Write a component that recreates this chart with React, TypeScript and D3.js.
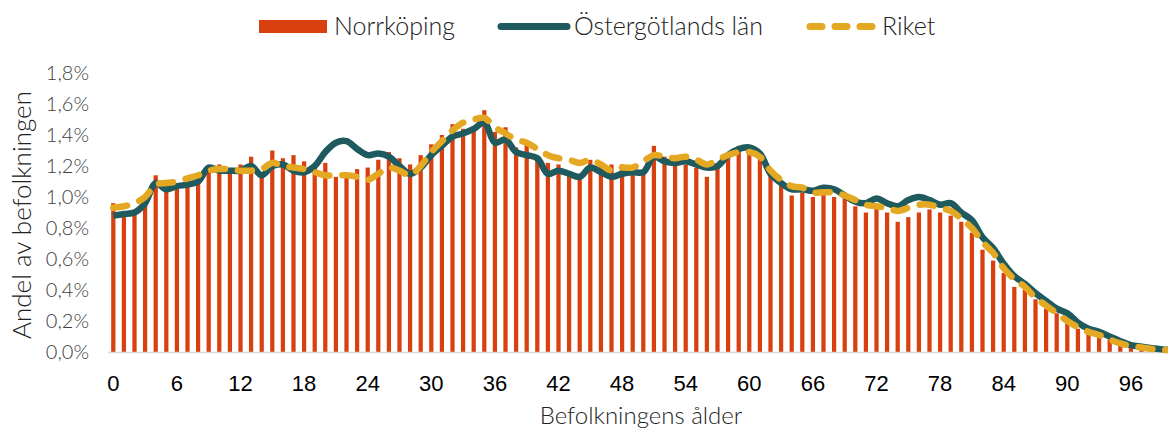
import React from 'react';
import * as d3 from 'd3';

const ages = d3.range(0, 101);

const norrkoping = [
  0.96, 0.9, 0.91, 0.97, 1.14, 1.06, 1.08, 1.09, 1.11, 1.19,
  1.21, 1.15, 1.21, 1.26, 1.16, 1.3, 1.25, 1.27, 1.23, 1.2,
  1.22, 1.13, 1.13, 1.18, 1.19, 1.24, 1.29, 1.25, 1.21, 1.27,
  1.34, 1.4, 1.47, 1.44, 1.45, 1.56, 1.42, 1.45, 1.32, 1.34,
  1.26, 1.22, 1.21, 1.15, 1.15, 1.24, 1.2, 1.21, 1.21, 1.16,
  1.17, 1.33, 1.26, 1.22, 1.21, 1.19, 1.13, 1.19, 1.26, 1.33,
  1.31, 1.25, 1.14, 1.08, 1.01, 1.03, 1.0, 1.02, 1.0, 0.99,
  0.94, 0.9, 0.93, 0.9, 0.84, 0.87, 0.9, 0.92, 0.9, 0.88,
  0.84, 0.77, 0.66, 0.59, 0.51, 0.42, 0.4, 0.34, 0.28, 0.25,
  0.19, 0.15, 0.12, 0.1, 0.08, 0.05, 0.03, 0.02, 0.01, 0.005, 0.003,
];

const ostergotland = [
  0.88, 0.89, 0.9, 0.96, 1.09, 1.05, 1.07, 1.08, 1.1, 1.19,
  1.17, 1.17, 1.17, 1.2, 1.14, 1.2, 1.21, 1.17, 1.16, 1.2,
  1.29, 1.35, 1.36, 1.31, 1.27, 1.28, 1.26, 1.2, 1.15, 1.19,
  1.27, 1.33, 1.39, 1.41, 1.44, 1.48, 1.35, 1.37, 1.29, 1.27,
  1.25, 1.15, 1.17, 1.15, 1.13, 1.19, 1.16, 1.13, 1.15, 1.16,
  1.16, 1.26, 1.23, 1.22, 1.23, 1.21, 1.19, 1.2, 1.27, 1.31,
  1.32, 1.28, 1.15, 1.09, 1.05, 1.05, 1.04, 1.06, 1.05, 1.01,
  0.97, 0.96, 0.99, 0.96, 0.94, 0.98, 1.0, 0.98, 0.95, 0.96,
  0.9, 0.85, 0.74, 0.67, 0.57, 0.49, 0.44, 0.38, 0.33, 0.28,
  0.25, 0.19, 0.15, 0.13, 0.1, 0.07, 0.045, 0.034, 0.024, 0.017, 0.012,
];

const riket = [
  0.93, 0.94, 0.96, 1.0, 1.08, 1.09, 1.1, 1.12, 1.14, 1.17,
  1.18, 1.18, 1.17, 1.17, 1.18, 1.22, 1.2, 1.19, 1.18, 1.16,
  1.14, 1.14, 1.14, 1.13, 1.11, 1.15, 1.19, 1.17, 1.14, 1.2,
  1.29, 1.36, 1.43, 1.48, 1.5, 1.51, 1.45, 1.41, 1.37, 1.35,
  1.31, 1.27, 1.25, 1.24, 1.22, 1.24, 1.21, 1.17, 1.19, 1.19,
  1.23, 1.27, 1.26, 1.25, 1.26, 1.24, 1.21, 1.24, 1.27, 1.29,
  1.29, 1.26, 1.17, 1.11, 1.07, 1.06, 1.03, 1.03, 1.03, 1.01,
  0.98, 0.95, 0.94, 0.93, 0.91, 0.93, 0.95, 0.95, 0.93, 0.91,
  0.86, 0.8, 0.71, 0.64, 0.54, 0.47, 0.42, 0.35, 0.3, 0.25,
  0.2, 0.16, 0.13, 0.11, 0.08, 0.056, 0.039, 0.029, 0.02, 0.014, 0.01,
];

const yTicks = [0, 0.2, 0.4, 0.6, 0.8, 1.0, 1.2, 1.4, 1.6, 1.8];
const xTicks = d3.range(0, 97, 6);

const RED = '#d9400f';
const TEAL = '#1f5a5e';
const GOLD = '#e5a823';
const THIN = 'Lato, "Open Sans", sans-serif';

const App = () => {
  const width = 1168;
  const height = 430;

  const x = d3.scaleBand<number>()
    .domain(ages)
    .range([108, 1178.6])
    .paddingInner(0.6)
    .paddingOuter(0.3);

  const y = d3.scaleLinear().domain([0, 1.8]).range([352, 73]);

  const cx = (a: number) => (x(a) as number) + x.bandwidth() / 2;

  const line = d3.line<number>()
    .x((_, i) => cx(ages[i]))
    .y(d => y(d))
    .curve(d3.curveCatmullRom.alpha(0.5));

  const fmt = (v: number) => v.toFixed(1).replace('.', ',') + '%';

  return (
    <svg width={width} height={height} style={{ position: 'absolute', left: 0, top: 0, background: '#fff' }}>
      {/* legend */}
      <g fontFamily={THIN} fontWeight={300} fontSize={25} fill="#222">
        <rect x={259} y={20} width={68} height={13} fill={RED} />
        <text x={334} y={35}>Norrköping</text>
        <line x1={501} x2={567} y1={26.5} y2={26.5} stroke={TEAL} strokeWidth={7} strokeLinecap="round" />
        <text x={574} y={35}>Östergötlands län</text>
        <line x1={810} x2={878} y1={26.5} y2={26.5} stroke={GOLD} strokeWidth={7} strokeLinecap="round" strokeDasharray="12 13" />
        <text x={882} y={35}>Riket</text>
      </g>

      {/* y axis labels */}
      <g fontFamily={THIN} fontWeight={300} fontSize={20} fill="#404040" textAnchor="end">
        {yTicks.map(t => (
          <text key={t} x={89} y={y(t)} dy="0.35em">{fmt(t)}</text>
        ))}
      </g>
      <text
        transform="translate(31,215) rotate(-90)"
        textAnchor="middle"
        fontFamily={THIN}
        fontWeight={300}
        fontSize={26}
        fill="#222"
      >Andel av befolkningen</text>

      {/* bars */}
      {ages.map((a, i) => (
        <rect
          key={a}
          x={x(a)}
          y={y(norrkoping[i])}
          width={x.bandwidth()}
          height={y(0) - y(norrkoping[i])}
          fill={RED}
        />
      ))}

      {/* baseline */}
      <line x1={108} x2={1168} y1={y(0) + 0.5} y2={y(0) + 0.5} stroke="#d9d9d9" strokeWidth={1.5} />

      {/* lines */}
      <path d={line(ostergotland) || ''} fill="none" stroke={TEAL} strokeWidth={6.5} strokeLinejoin="round" />
      <path
        d={line(riket) || ''}
        fill="none"
        stroke={GOLD}
        strokeWidth={6.5}
        strokeLinecap="round"
        strokeLinejoin="round"
        strokeDasharray="14 13"
      />

      {/* x axis labels */}
      <g fontFamily='"Liberation Sans", Arial, sans-serif' fontSize={22} fill="#000" textAnchor="middle">
        {xTicks.map(t => (
          <text key={t} x={cx(t)} y={391}>{t}</text>
        ))}
      </g>
      <text x={641} y={424} textAnchor="middle" fontFamily={THIN} fontWeight={300} fontSize={24} fill="#222">
        Befolkningens ålder
      </text>
    </svg>
  );
};

export default App;
